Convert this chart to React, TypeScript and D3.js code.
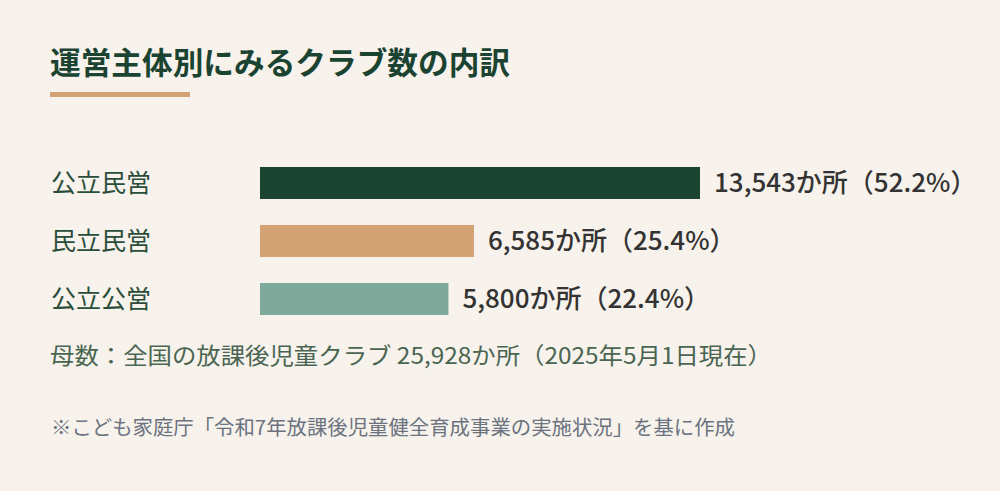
import * as d3 from 'd3';

const categories = ['公立民営', '民立民営', '公立公営'];
const clubCounts = [13543, 6585, 5800];
const shares = [52.2, 25.4, 22.4];
const barColors = ['#1b4332', '#d4a373', '#7fa99b'];

const title = '運営主体別にみるクラブ数の内訳';
const baseNote = '母数：全国の放課後児童クラブ 25,928か所（2025年5月1日現在）';
const sourceNote = '※こども家庭庁「令和7年放課後児童健全育成事業の実施状況」を基に作成';

const width = 1000;
const height = 491;
const font = '"Noto Sans CJK JP", "Noto Sans", sans-serif';

const App = () => {
    const x = d3.scaleLinear()
        .domain([0, d3.max(clubCounts) ?? 1])
        .range([260, 700]);

    const y = d3.scaleBand<string>()
        .domain(categories)
        .range([154, 328])
        .paddingInner(0.448)
        .paddingOuter(0.224);

    const fmt = d3.format(',');

    return (
        <svg width={width} height={height} style={{display: 'block', position: 'absolute', left: 0, top: 0}} fontFamily={font}>
            <rect width={width} height={height} fill="#f7f2eb" />

            {/* title + underline */}
            <text x={50} y={74} fontSize="31px" fontWeight={700} fill="#1b4332" textLength={460} lengthAdjust="spacingAndGlyphs">{title}</text>
            <rect x={50} y={92} width={140} height={5} fill="#d4a373" />

            {categories.map((c, i) => {
                const yy = y(c) ?? 0
                const bw = y.bandwidth()
                return (
                    <g key={c}>
                        <text x={51} y={yy + bw / 2 + 9} fontSize="25px" fill="#2a4d3a">{c}</text>
                        <rect x={x(0)} y={yy} width={x(clubCounts[i]) - x(0)} height={bw} fill={barColors[i]} />
                        <text x={x(clubCounts[i]) + 14} y={yy + bw / 2 + 9} fontSize="26px" fontWeight={500} fill="#333333">
                            {`${fmt(clubCounts[i])}か所（${shares[i].toFixed(1)}%）`}
                        </text>
                    </g>
                )
            })}

            <text x={50} y={364} fontSize="23px" fill="#4a6552" textLength={722} lengthAdjust="spacingAndGlyphs">{baseNote}</text>
            <text x={51} y={435} fontSize="20px" fill="#6b7280" textLength={684} lengthAdjust="spacingAndGlyphs">{sourceNote}</text>
        </svg>
    )
}

export default App
